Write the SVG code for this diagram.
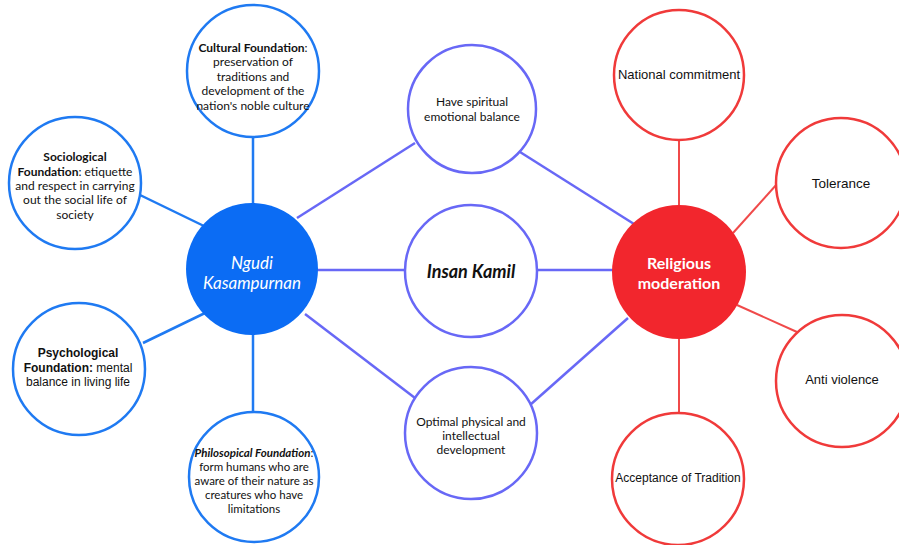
<svg xmlns="http://www.w3.org/2000/svg" width="899" height="545" viewBox="0 0 899 545">
<style>
.bl{stroke:#1f7af2;stroke-width:2.5;fill:none}
.pu{stroke:#6868f6;stroke-width:2.5;fill:none}
.rd{stroke:#f04a4a;stroke-width:2;fill:none}
.cb{fill:#fff;stroke:#1f7af2;stroke-width:2.5}
.cp{fill:#fff;stroke:#6868f6;stroke-width:2.5}
.cr{fill:#fff;stroke:#f03a3a;stroke-width:2.5}
.lt{font-family:Lato,"Liberation Sans",sans-serif;font-size:12px;fill:#111;text-anchor:middle}
.ar{font-family:"Liberation Sans",Arial,sans-serif;font-size:12px;fill:#111;text-anchor:middle}
.b{font-weight:bold}
</style>
<rect width="899" height="545" fill="#fff"/>
<g id="connectors">
<line class="bl" x1="253" y1="137" x2="253" y2="204"/>
<line class="bl" x1="140" y1="195" x2="206" y2="227"/>
<line class="bl" x1="143" y1="343" x2="205" y2="313"/>
<line class="bl" x1="253" y1="334" x2="253" y2="414"/>
<line class="pu" x1="297" y1="218" x2="415" y2="143"/>
<line class="pu" x1="317" y1="270" x2="406" y2="270"/>
<line class="pu" x1="305" y1="314" x2="415" y2="398"/>
<line class="pu" x1="520" y1="152" x2="634" y2="224"/>
<line class="pu" x1="537" y1="270" x2="613" y2="270"/>
<line class="pu" x1="530" y1="405" x2="628" y2="318"/>
<line class="rd" x1="679" y1="139" x2="679" y2="206"/>
<line class="rd" x1="733" y1="233" x2="777" y2="184"/>
<line class="rd" x1="737" y1="305" x2="797" y2="332"/>
<line class="rd" x1="679" y1="338" x2="679" y2="414"/>
</g>
<g id="cultural">
<circle class="cb" cx="253" cy="71" r="66"/>
<text class="lt" x="253" y="52"><tspan class="b">Cultural Foundation</tspan>:</text>
<text class="lt" x="253" y="66">preservation of</text>
<text class="lt" x="253" y="81">traditions and</text>
<text class="lt" x="253" y="95">development of the</text>
<text class="lt" x="253" y="110">nation's noble culture</text>
</g>
<g id="sociological">
<circle class="cb" cx="75" cy="183" r="66"/>
<text class="lt b" x="75" y="161">Sociological</text>
<text class="lt" x="75" y="176"><tspan class="b">Foundation</tspan>: etiquette</text>
<text class="lt" x="75" y="190">and respect in carrying</text>
<text class="lt" x="75" y="204">out the social life of</text>
<text class="lt" x="75" y="219">society</text>
</g>
<g id="psychological">
<circle class="cb" cx="79" cy="369" r="66"/>
<text class="ar b" x="78" y="357">Psychological</text>
<text class="ar" x="78" y="372"><tspan class="b">Foundation:</tspan> mental</text>
<text class="ar" x="78" y="386">balance in living life</text>
</g>
<g id="philosophical">
<circle class="cb" cx="254" cy="477" r="65"/>
<text class="lt" x="254" y="457" style="font-size:11.5px"><tspan class="b" font-style="italic">Philosopical Foundation</tspan>:</text>
<text class="lt" x="254" y="471" style="font-size:11.5px">form humans who are</text>
<text class="lt" x="254" y="485" style="font-size:11.5px">aware of their nature as</text>
<text class="lt" x="254" y="499" style="font-size:11.5px">creatures who have</text>
<text class="lt" x="254" y="513" style="font-size:11.5px">limitations</text>
</g>
<g id="ngudi">
<circle cx="252" cy="269" r="66" fill="#0b6cf4"/>
<text class="lt" x="252" y="269" style="font-size:17px;font-style:italic;fill:#fff">Ngudi</text>
<text class="lt" x="252" y="289" style="font-size:17px;font-style:italic;fill:#fff">Kasampurnan</text>
</g>
<g id="spiritual">
<circle class="cp" cx="472" cy="109" r="64"/>
<text class="lt" x="472" y="106">Have spiritual</text>
<text class="lt" x="472" y="121">emotional balance</text>
</g>
<g id="insan">
<circle class="cp" cx="471" cy="271" r="66"/>
<text class="lt b" x="471" y="278" style="font-size:18px;font-style:italic">Insan Kamil</text>
</g>
<g id="optimal">
<circle class="cp" cx="471" cy="433" r="66"/>
<text class="lt" x="471" y="426">Optimal physical and</text>
<text class="lt" x="471" y="440">intellectual</text>
<text class="lt" x="471" y="454">development</text>
</g>
<g id="religious">
<circle cx="679" cy="272" r="67" fill="#f2262d"/>
<text class="lt b" x="679" y="269" style="font-size:16px;fill:#fff">Religious</text>
<text class="lt b" x="679" y="289" style="font-size:16px;fill:#fff">moderation</text>
</g>
<g id="national">
<circle class="cr" cx="679" cy="75" r="65"/>
<text class="ar" x="679" y="79" style="font-size:13px">National commitment</text>
</g>
<g id="tolerance">
<circle class="cr" cx="841" cy="183" r="65"/>
<text class="ar" x="841" y="188" style="font-size:13.5px">Tolerance</text>
</g>
<g id="antiviolence">
<circle class="cr" cx="842" cy="381" r="66"/>
<text class="ar" x="842" y="384" style="font-size:13px">Anti violence</text>
</g>
<g id="acceptance">
<circle class="cr" cx="678" cy="479" r="66"/>
<text class="ar" x="678" y="482">Acceptance of Tradition</text>
</g>
</svg>
